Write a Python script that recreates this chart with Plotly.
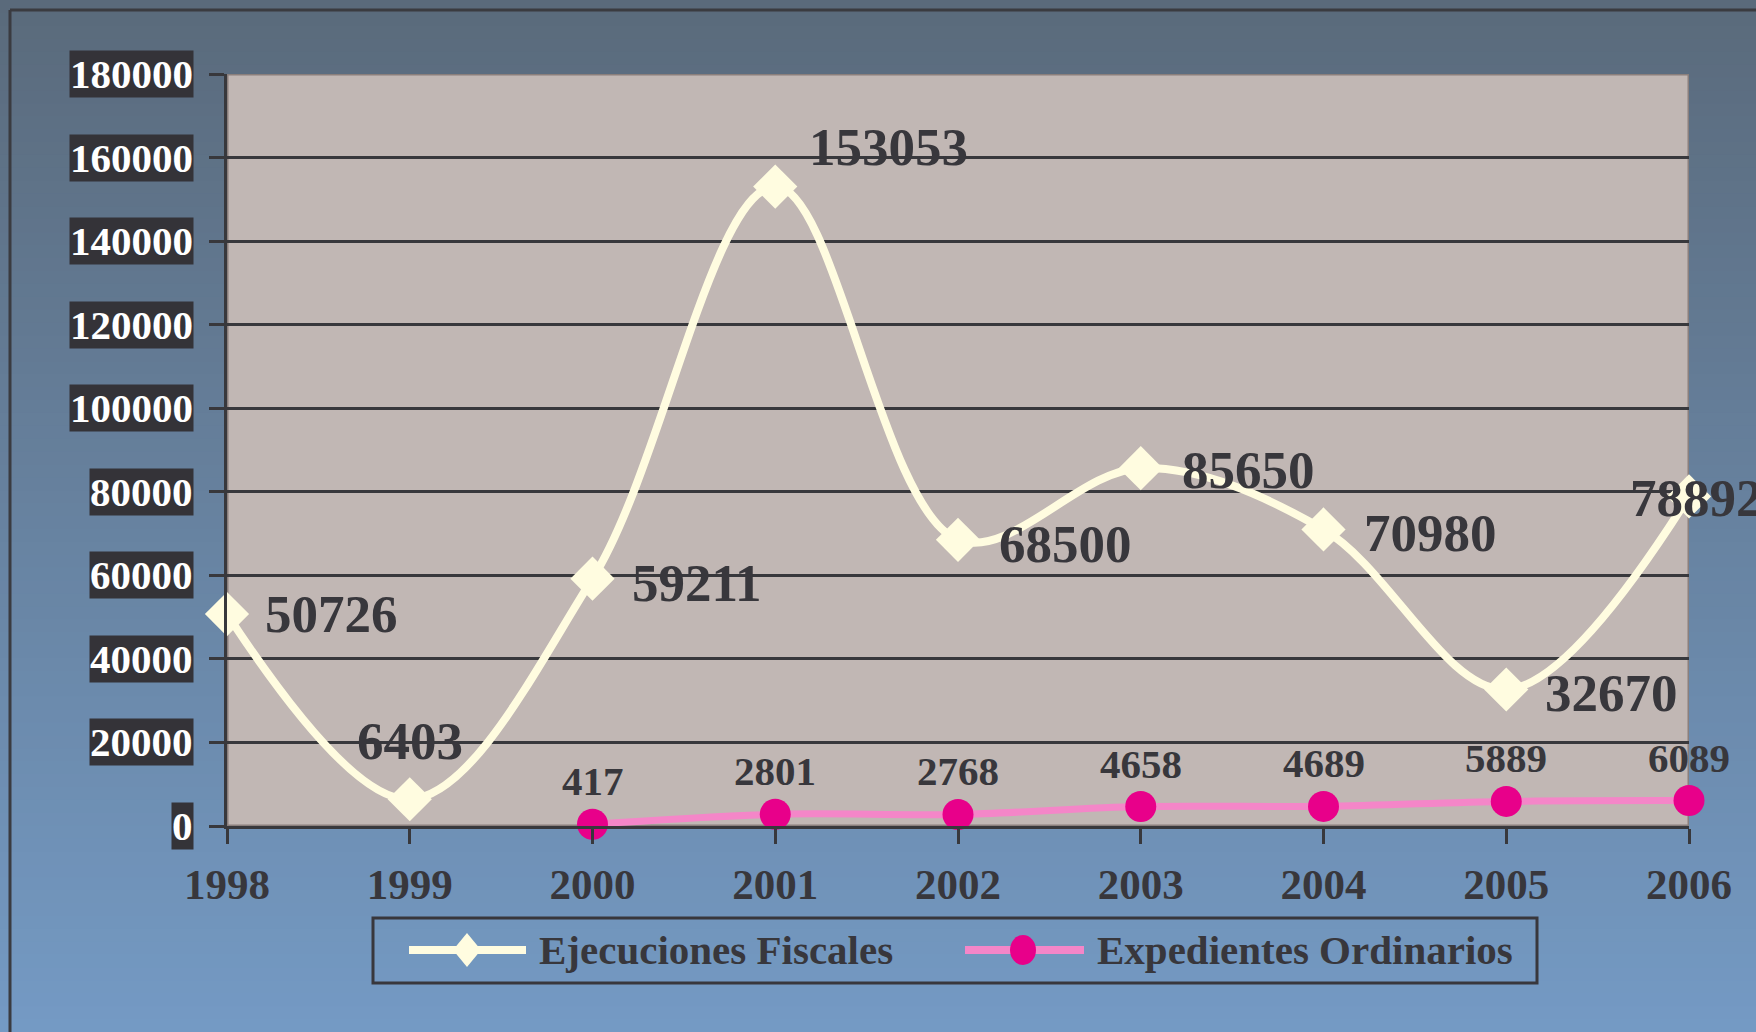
import plotly.graph_objects as go

# ---------------- data ----------------
years = [1998, 1999, 2000, 2001, 2002, 2003, 2004, 2005, 2006]
ejecuciones = [50726, 6403, 59211, 153053, 68500, 85650, 70980, 32670, 78892]
exp_years = [2000, 2001, 2002, 2003, 2004, 2005, 2006]
expedientes = [417, 2801, 2768, 4658, 4689, 5889, 6089]
x_tick_labels = ["1998", "1999", "2000", "2001", "2002", "2003", "2004", "2005", "2006"]
y_ticks = [0, 20000, 40000, 60000, 80000, 100000, 120000, 140000, 160000, 180000]
y_tick_labels = ["0", "20000", "40000", "60000", "80000", "100000", "120000",
                 "140000", "160000", "180000"]
series_names = ["Ejecuciones Fiscales", "Expedientes Ordinarios"]

# ---------------- style ----------------
W, H = 1756, 1032
ML, MR, MT, MB = 227, 67, 74, 206
PW, PH = W - ML - MR, H - MT - MB
FONT = "Liberation Serif"
DARK = "#38373c"
CREAM = "#fffce0"
PINK_LINE = "#f486c8"
MAGENTA = "#e8008a"
PLOT_BG = "#c1b7b4"
GRID = "#38383c"

# label placement (xanchor, xshift px, yshift px) for the Ejecuciones labels
ej_label_pos = [("left", 36, 0), ("center", 0, 58), ("left", 37, -4), ("left", 32, 40),
                ("left", 39, -4), ("left", 39, -2), ("left", 38, -4), ("left", 37, -3),
                ("left", -61, -2)]
exp_label_dy = 43


def px_x(p):
    return (p - ML) / PW


def px_y(p):
    return (H - MB - p) / PH


fig = go.Figure()
fig.add_trace(go.Scatter(
    x=years, y=ejecuciones, name=series_names[0], mode="lines+markers",
    line=dict(color=CREAM, width=8, shape="spline", smoothing=1),
    marker=dict(symbol="diamond", size=34, color=CREAM, line=dict(width=0)),
    cliponaxis=False, showlegend=False))
fig.add_trace(go.Scatter(
    x=exp_years, y=expedientes, name=series_names[1], mode="lines+markers",
    line=dict(color=PINK_LINE, width=7, shape="spline", smoothing=1),
    marker=dict(symbol="circle", size=31, color=MAGENTA, line=dict(width=0)),
    cliponaxis=False, showlegend=False))

shapes = []
# gradient background bands
top_c = (90, 106, 123)
bot_c = (116, 154, 196)
n = 80
for i in range(n):
    t = (i + 0.5) / n
    c = tuple(int(round(top_c[k] + (bot_c[k] - top_c[k]) * t)) for k in range(3))
    y0p = H * i / n
    y1p = H * (i + 1) / n + 1
    shapes.append(dict(type="rect", xref="paper", yref="paper",
                       x0=px_x(-5), x1=px_x(W + 5), y0=px_y(y1p), y1=px_y(y0p),
                       fillcolor="rgb(%d,%d,%d)" % c, line=dict(width=0), layer="below"))
# outer frame lines
shapes.append(dict(type="line", xref="paper", yref="paper", x0=px_x(10), x1=px_x(W + 10),
                   y0=px_y(10), y1=px_y(10), line=dict(color="#3a3b40", width=3), layer="below"))
shapes.append(dict(type="line", xref="paper", yref="paper", x0=px_x(10), x1=px_x(10),
                   y0=px_y(10), y1=px_y(H + 10), line=dict(color="#3a3b40", width=3), layer="below"))
# plot area background
shapes.append(dict(type="rect", xref="x", yref="y", x0=years[0], x1=years[-1],
                   y0=y_ticks[0], y1=y_ticks[-1], fillcolor=PLOT_BG,
                   line=dict(color="#8a7f7c", width=3), layer="below"))

# custom legend
LY = 950
shapes.append(dict(type="rect", xref="paper", yref="paper", x0=px_x(373), x1=px_x(1537),
                   y0=px_y(983), y1=px_y(918), line=dict(color=DARK, width=3),
                   fillcolor="rgba(0,0,0,0)", layer="above"))
shapes.append(dict(type="line", xref="paper", yref="paper", x0=px_x(409), x1=px_x(526),
                   y0=px_y(LY), y1=px_y(LY), line=dict(color=CREAM, width=8), layer="above"))
cx, hw, hh = 467, 14, 17
shapes.append(dict(type="path", xref="paper", yref="paper",
                   path="M %f %f L %f %f L %f %f L %f %f Z" % (
                       px_x(cx - hw), px_y(LY), px_x(cx), px_y(LY - hh),
                       px_x(cx + hw), px_y(LY), px_x(cx), px_y(LY + hh)),
                   fillcolor=CREAM, line=dict(width=0), layer="above"))
shapes.append(dict(type="line", xref="paper", yref="paper", x0=px_x(965), x1=px_x(1084),
                   y0=px_y(LY), y1=px_y(LY), line=dict(color=PINK_LINE, width=8), layer="above"))
cx2, rx, ry = 1023, 13, 15
shapes.append(dict(type="circle", xref="paper", yref="paper",
                   x0=px_x(cx2 - rx), x1=px_x(cx2 + rx), y0=px_y(LY + ry), y1=px_y(LY - ry),
                   fillcolor=MAGENTA, line=dict(width=0), layer="above"))

annotations = []
# y tick labels with dark boxes
for v, lab in zip(y_ticks, y_tick_labels):
    annotations.append(dict(x=0, xref="paper", y=v, yref="y", text=lab, showarrow=False,
                            xanchor="right", yanchor="middle", xshift=-33,
                            bgcolor="#343338", borderpad=0,
                            font=dict(family=FONT, size=41, color="white", weight="bold")))
# data labels
for x, v, (xa, dx, dy) in zip(years, ejecuciones, ej_label_pos):
    annotations.append(dict(x=x, y=v, xref="x", yref="y", text=str(v), showarrow=False,
                            xanchor=xa, yanchor="middle", xshift=dx, yshift=dy,
                            font=dict(family=FONT, size=53, color=DARK, weight="bold")))
for x, v in zip(exp_years, expedientes):
    annotations.append(dict(x=x, y=v, xref="x", yref="y", text=str(v), showarrow=False,
                            xanchor="center", yanchor="middle", yshift=exp_label_dy,
                            font=dict(family=FONT, size=41, color=DARK, weight="bold")))
# legend texts
annotations.append(dict(x=px_x(537), y=px_y(LY), xref="paper", yref="paper",
                        text=series_names[0], showarrow=False, xanchor="left", yanchor="middle",
                        font=dict(family=FONT, size=41, color=DARK, weight="bold")))
annotations.append(dict(x=px_x(1095), y=px_y(LY), xref="paper", yref="paper",
                        text=series_names[1], showarrow=False, xanchor="left", yanchor="middle",
                        font=dict(family=FONT, size=41, color=DARK, weight="bold")))

fig.update_layout(
    width=W, height=H,
    margin=dict(l=ML, r=MR, t=MT, b=MB, pad=0),
    paper_bgcolor="#677f9c",
    plot_bgcolor="rgba(0,0,0,0)",
    showlegend=False,
    shapes=shapes,
    annotations=annotations,
    xaxis=dict(range=[years[0], years[-1]], tickvals=years, ticktext=x_tick_labels,
               ticks="outside", ticklen=15, tickwidth=3, tickcolor=GRID,
               showline=True, linecolor=GRID, linewidth=3, showgrid=False, zeroline=False,
               ticklabelstandoff=3,
               tickfont=dict(family=FONT, size=43, color=DARK, weight="bold")),
    yaxis=dict(range=[y_ticks[0], y_ticks[-1]], tickvals=y_ticks, showticklabels=False,
               ticks="outside", ticklen=15, tickwidth=3, tickcolor=GRID,
               showline=True, linecolor=GRID, linewidth=3, showgrid=True,
               gridcolor=GRID, gridwidth=3, zeroline=False),
)

fig.write_html("out.html",
               config={"displayModeBar": False},
               post_script="document.body.style.margin='0px';"
                           "document.body.style.overflow='hidden';")
